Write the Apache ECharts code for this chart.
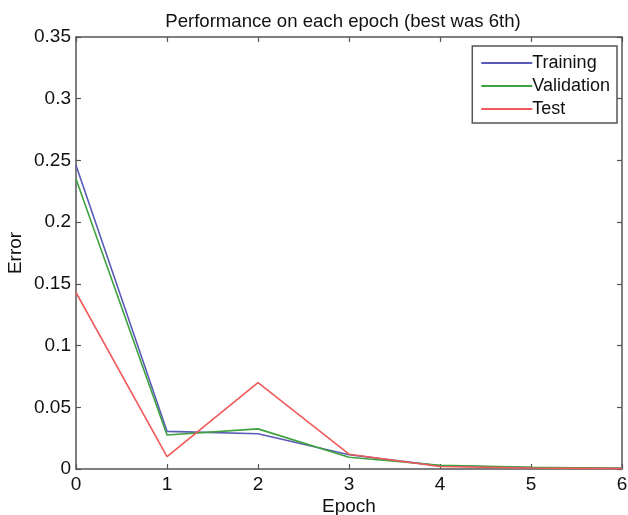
<!DOCTYPE html>
<html>
<head>
<meta charset="utf-8">
<script src="https://cdn.jsdelivr.net/npm/echarts@6/dist/echarts.min.js"></script>
<style>
  html, body { margin: 0; padding: 0; background: #fff; }
  #chart { width: 628px; height: 515px; }
</style>
</head>
<body>
<div id="chart"></div>
<script>
// epochs and per-split error values
const epochs = [0, 1, 2, 3, 4, 5, 6]
const training = [0.246, 0.0305, 0.0285, 0.0115, 0.0025, 0.0012, 0.0006]
const validation = [0.235, 0.0275, 0.0325, 0.0095, 0.003, 0.0013, 0.0006]
const test = [0.143, 0.010, 0.070, 0.012, 0.002, 0.0008, 0.0003]
const yTicks = [0, 0.05, 0.1, 0.15, 0.2, 0.25, 0.3, 0.35]

const font = 'Liberation Sans, Arial, sans-serif'
const axisColor = '#555'
const fontSize = 19

const chart = echarts.init(document.getElementById('chart'))

function pairs(values) {
  return epochs.map((e, i) => [e, values[i]])
}

function boxAxis() {
  return {
    axisLine: { show: true, onZero: false, lineStyle: { color: axisColor, width: 1.5 } },
    axisTick: { show: true, inside: true, length: 5, lineStyle: { color: axisColor, width: 1.2 } },
    splitLine: { show: false }
  }
}

chart.setOption({
  animation: false,
  title: {
    text: 'Performance on each epoch (best was 6th)',
    left: 338,
    textAlign: 'center',
    top: 7,
    textStyle: { fontFamily: font, fontSize: 18.6, fontWeight: 'normal', color: '#111' }
  },
  grid: { left: 76, right: 6, top: 37, bottom: 46, outerBoundsMode: 'none', containLabel: false },
  legend: {
    orient: 'vertical',
    right: 11,
    top: 46,
    itemWidth: 51,
    itemHeight: 2,
    itemGap: 5,
    padding: [8, 7, 5, 9],
    borderColor: axisColor,
    borderWidth: 1.5,
    backgroundColor: '#fff',
    icon: 'rect',
    data: ['Training', 'Validation', 'Test'],
    textStyle: { fontFamily: font, fontSize: 18, color: '#111', padding: [0, 0, 0, -5] }
  },
  xAxis: [
    Object.assign(boxAxis(), {
      type: 'value', min: 0, max: 6, interval: 1,
      name: 'Epoch', nameLocation: 'middle', nameGap: 28, nameMoveOverlap: false,
      nameTextStyle: { fontFamily: font, fontSize: fontSize, color: '#111' },
      axisLabel: { fontFamily: font, fontSize: fontSize, color: '#111', margin: 6 }
    }),
    Object.assign(boxAxis(), {
      type: 'value', min: 0, max: 6, interval: 1, position: 'top',
      axisLabel: { show: false }
    })
  ],
  yAxis: [
    Object.assign(boxAxis(), {
      type: 'value', min: 0, max: 0.35, interval: 0.05,
      name: 'Error', nameLocation: 'middle', nameGap: 51, nameMoveOverlap: false,
      nameTextStyle: { fontFamily: font, fontSize: fontSize, color: '#111' },
      axisLabel: {
        fontFamily: font, fontSize: fontSize, color: '#111', margin: 5,
        formatter: v => {
          const t = yTicks.find(y => Math.abs(y - v) < 1e-9)
          return t === undefined ? '' : String(t)
        }
      }
    }),
    Object.assign(boxAxis(), {
      type: 'value', min: 0, max: 0.35, interval: 0.05, position: 'right',
      axisLabel: { show: false }
    })
  ],
  series: [
    {
      name: 'Training', type: 'line', data: pairs(training), showSymbol: false,
      lineStyle: { color: '#5a5ab8', width: 1.6 }, itemStyle: { color: '#5a5ab8' }, z: 3
    },
    {
      name: 'Validation', type: 'line', data: pairs(validation), showSymbol: false,
      lineStyle: { color: '#3ea23e', width: 1.6 }, itemStyle: { color: '#3ea23e' }, z: 4
    },
    {
      name: 'Test', type: 'line', data: pairs(test), showSymbol: false,
      lineStyle: { color: '#f05a5a', width: 1.6 }, itemStyle: { color: '#f05a5a' }, z: 5
    }
  ]
})
</script>
</body>
</html>
